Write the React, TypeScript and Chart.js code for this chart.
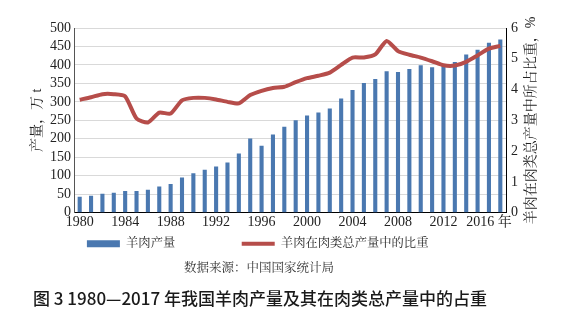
import { useEffect, useRef } from "react";
import { Chart, registerables } from "chart.js";

Chart.register(...registerables);

const years = [
  "1980", "1981", "1982", "1983", "1984", "1985", "1986", "1987", "1988", "1989",
  "1990", "1991", "1992", "1993", "1994", "1995", "1996", "1997", "1998", "1999",
  "2000", "2001", "2002", "2003", "2004", "2005", "2006", "2007", "2008", "2009",
  "2010", "2011", "2012", "2013", "2014", "2015", "2016", "2017",
];

// 羊肉产量, 万 t
const muttonOutput = [
  43, 46, 51, 54, 59, 59, 62, 71, 78, 95,
  107, 116, 125, 136, 160, 201, 181, 212, 233, 250,
  263, 271, 282, 309, 332, 351, 362, 383, 381, 389,
  399, 394, 401, 408, 428, 441, 460, 469,
];

// 羊肉在肉类总产量中的比重, %
const muttonShare = [
  3.67, 3.75, 3.85, 3.85, 3.78, 3.06, 2.93, 3.25, 3.22, 3.65,
  3.73, 3.73, 3.68, 3.6, 3.55, 3.82, 3.96, 4.05, 4.09, 4.24,
  4.37, 4.45, 4.55, 4.8, 5.04, 5.04, 5.14, 5.58, 5.25, 5.13,
  5.04, 4.92, 4.79, 4.78, 4.9, 5.11, 5.33, 5.42,
];

const xTickYears = ["1980", "1984", "1988", "1992", "1996", "2000", "2004", "2008", "2012", "2016"];
const xTickTexts = ["1980", "1984", "1988", "1992", "1996", "2000", "2004", "2008", "2012", "2016 年"];

const seriesNames = ["羊肉产量", "羊肉在肉类总产量中的比重"];
const leftAxisTitle = "产量，万 t";
const rightAxisTitle = "羊肉在肉类总产量中所占比重，%";
const sourceText = "数据来源：中国国家统计局";
const captionText = "图 3 1980—2017 年我国羊肉产量及其在肉类总产量中的占重";

const FONT = '"Liberation Serif", "Noto Serif CJK SC", "Noto Sans CJK SC", serif';
const BAR_COLOR = "#4a78b0";
const LINE_COLOR = "#b64d4a";
const TEXT_COLOR = "#222";

export default function App() {
  const ref = useRef<HTMLCanvasElement>(null);

  useEffect(() => {
    document.body.style.margin = "0";
    const canvas = ref.current;
    if (!canvas) return;

    const rightTitlePlugin = {
      id: "rightTitle",
      afterDraw(chart: any) {
        const { ctx, chartArea } = chart;
        const s = chart.scales.y1;
        ctx.save();
        ctx.font = `14px ${FONT}`;
        ctx.fillStyle = TEXT_COLOR;
        ctx.textAlign = "center";
        ctx.textBaseline = "middle";
        ctx.translate(s.left + 25, (chartArea.top + chartArea.bottom) / 2);
        ctx.rotate(-Math.PI / 2);
        ctx.fillText(rightAxisTitle, 0, 0);
        ctx.restore();
      },
    };

    const chart = new Chart(canvas, {
      type: "bar",
      data: {
        labels: years,
        datasets: [
          {
            type: "bar",
            label: seriesNames[0],
            data: muttonOutput,
            yAxisID: "y",
            backgroundColor: BAR_COLOR,
            borderColor: BAR_COLOR,
            borderWidth: 0,
            barPercentage: 0.36,
            categoryPercentage: 1,
            order: 2,
          },
          {
            type: "line",
            label: seriesNames[1],
            data: muttonShare,
            yAxisID: "y1",
            borderColor: LINE_COLOR,
            backgroundColor: LINE_COLOR,
            borderWidth: 4,
            pointRadius: 0,
            tension: 0.2,
            borderJoinStyle: "round",
            borderCapStyle: "butt",
            order: 1,
          },
        ],
      } as any,
      options: {
        animation: false,
        responsive: false,
        layout: { padding: { left: 20, right: 54, top: 28, bottom: 63 } },
        plugins: {
          title: { display: false },
          tooltip: { enabled: false },
          legend: {
            position: "bottom",
            labels: {
              usePointStyle: true,
              pointStyleWidth: 33,
              boxHeight: 7,
              padding: 5,
              color: TEXT_COLOR,
              font: { family: FONT, size: 12.3 },
              generateLabels(chart: any) {
                const items = (Chart.defaults.plugins.legend.labels as any)
                  .generateLabels(chart)
                  .sort((a: any, b: any) => a.datasetIndex - b.datasetIndex);
                items.forEach((it: any) => {
                  if (it.datasetIndex === 0) {
                    it.text = it.text + " ".repeat(20);
                    it.pointStyle = "rect";
                    it.fillStyle = BAR_COLOR;
                    it.lineWidth = 0;
                  } else {
                    it.text = it.text + " ".repeat(9);
                    it.pointStyle = "line";
                    it.strokeStyle = LINE_COLOR;
                    it.lineWidth = 4;
                  }
                });
                return items;
              },
            },
          },
        },
        scales: {
          x: {
            offset: true,
            grid: { display: false, drawTicks: false },
            border: { color: "#000", width: 1 },
            ticks: {
              autoSkip: false,
              maxRotation: 0,
              minRotation: 0,
              padding: 3,
              color: TEXT_COLOR,
              font: { family: FONT, size: 14, lineHeight: 1 },
              callback: (_v: any, i: number) => {
                const k = xTickYears.indexOf(years[i]);
                return k >= 0 ? xTickTexts[k] : "";
              },
            },
          },
          y: {
            position: "left",
            min: 0,
            max: 500,
            grid: { color: "#d9d9d9", drawTicks: false },
            border: { color: "#555", width: 1 },
            ticks: {
              stepSize: 50,
              autoSkip: false,
              padding: 3,
              color: TEXT_COLOR,
              font: { family: FONT, size: 14, lineHeight: 1 },
            },
            title: {
              display: true,
              text: leftAxisTitle,
              color: TEXT_COLOR,
              font: { family: FONT, size: 14 },
              padding: { top: 8.6, bottom: 1.6 },
            },
          },
          y1: {
            position: "right",
            min: 0,
            max: 6,
            grid: { display: false, drawTicks: false },
            border: { color: "#000", width: 1 },
            ticks: {
              stepSize: 1,
              autoSkip: false,
              padding: 5,
              color: TEXT_COLOR,
              font: { family: FONT, size: 14, lineHeight: 1 },
            },
          },
        },
      } as any,
      plugins: [rightTitlePlugin],
    });

    return () => chart.destroy();
  }, []);

  return (
    <div style={{ position: "absolute", left: 0, top: 0, width: 577, height: 323, background: "#fff" }}>
      <canvas ref={ref} width={577} height={323} style={{ position: "absolute", left: 0, top: 0, width: 577, height: 323 }} />
      <div
        style={{
          position: "absolute",
          left: 0,
          top: 260,
          width: 518,
          textAlign: "center",
          font: `12.5px/16px ${FONT}`,
          color: "#333",
          whiteSpace: "nowrap",
        }}
      >
        {sourceText}
      </div>
      <div
        style={{
          position: "absolute",
          left: 0,
          top: 287,
          width: 520,
          textAlign: "center",
          fontFamily: '"Noto Sans CJK SC", sans-serif',
          fontWeight: 500,
          fontSize: 17,
          lineHeight: "22px",
          color: "#1a1a1a",
          whiteSpace: "nowrap",
        }}
      >
        {captionText}
      </div>
    </div>
  );
}
